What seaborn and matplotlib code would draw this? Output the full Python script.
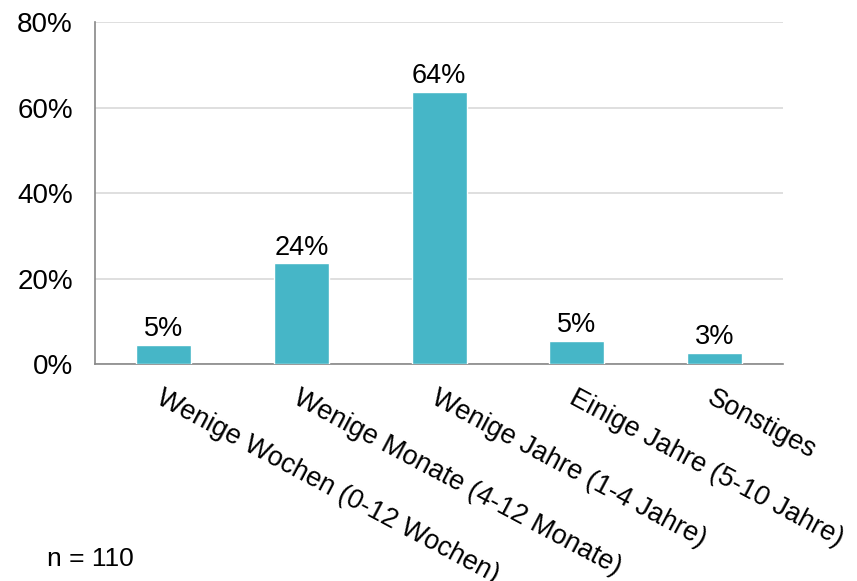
import numpy as np
import pandas as pd
import matplotlib
matplotlib.use('Agg')
import matplotlib.pyplot as plt
import seaborn as sns
from matplotlib.ticker import FixedLocator, PercentFormatter

# DATA
categories = ['Wenige Wochen (0-12 Wochen)', 'Wenige Monate (4-12 Monate)',
              'Wenige Jahre (1-4 Jahre)', 'Einige Jahre (5-10 Jahre)', 'Sonstiges']
shares = [4.5, 23.6, 63.6, 5.5, 2.7]
value_labels = ['5%', '24%', '64%', '5%', '3%']
sample_note = 'n = 110'

df = pd.DataFrame({'Kategorie': categories, 'Anteil': shares})

sns.set_style('white')
plt.rcParams['font.family'] = ['Liberation Sans', 'DejaVu Sans']

fig = plt.figure(figsize=(8.57, 5.81), dpi=100)
ax = fig.add_axes([0.111, 0.373, 0.803, 0.589])

sns.barplot(data=df, x='Kategorie', y='Anteil', color='#46B6C7', width=0.4,
            saturation=1, ax=ax, zorder=3)

ax.bar_label(ax.containers[0], labels=value_labels, padding=2, fontsize=19.5, color='#000000')

ax.set_xlim(-0.5, len(categories) - 0.5)
ax.set_ylim(0, 80)
ax.set_yticks([0, 20, 40, 60, 80])
ax.yaxis.set_major_formatter(PercentFormatter(decimals=0))
ax.grid(axis='y', color='#d9d9d9', linewidth=1.2, zorder=0)

# category boundaries as tick marks, labels centred without marks
ax.xaxis.set_minor_locator(FixedLocator(np.arange(-0.5, len(categories), 1.0)))
ax.tick_params(axis='x', which='major', length=0, pad=15, labelcolor='#000000')
ax.tick_params(axis='x', which='minor', length=5, width=1.2, color='#888888', direction='out')
ax.tick_params(axis='y', length=5, width=1.2, color='#888888', direction='out',
               labelsize=20, labelcolor='#000000', pad=11)
ax.set_xticks(range(len(categories)))
ax.set_xticklabels(categories, rotation=-28, ha='left', va='top',
                   rotation_mode='anchor', fontsize=19.5)
ax.set_xlabel('')
ax.set_ylabel('')

for side in ['top', 'right']:
    ax.spines[side].set_visible(False)
for side in ['left', 'bottom']:
    ax.spines[side].set_color('#888888')
    ax.spines[side].set_linewidth(1.2)

fig.text(0.055, 0.025, sample_note, fontsize=19, color='#000000')

fig.savefig('out.png', dpi=100)
